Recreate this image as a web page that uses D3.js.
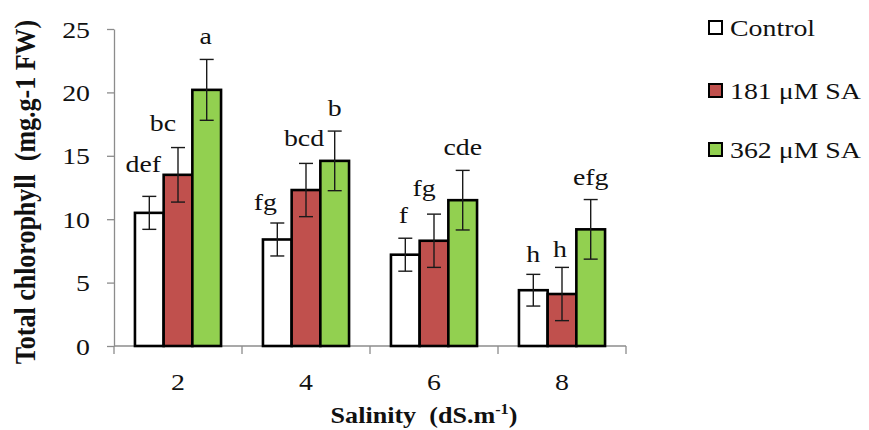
<!DOCTYPE html>
<html>
<head>
<meta charset="utf-8">
<script src="https://cdn.jsdelivr.net/npm/d3@7"></script>
<style>
  html, body { margin: 0; padding: 0; background: #fff; }
  svg { display: block; }
  text { font-family: "Liberation Serif", "Times New Roman", serif; fill: #111; }
</style>
</head>
<body>
<svg id="chart" width="869" height="430"></svg>
<script>
// ---- data ----
const categories = ["2", "4", "6", "8"];
const seriesNames = ["Control", "181 \u03BCM SA", "362 \u03BCM SA"];
const controlValues = [10.5, 8.4, 7.2, 4.4];
const sa181Values   = [13.5, 12.3, 8.3, 4.1];
const sa362Values   = [20.2, 14.6, 11.5, 9.2];
const controlErr = [1.3, 1.3, 1.3, 1.25];
const sa181Err   = [2.15, 2.1, 2.1, 2.1];
const sa362Err   = [2.4, 2.35, 2.35, 2.35];
const controlLetters = ["def", "fg", "f", "h"];
const sa181Letters   = ["bc", "bcd", "fg", "h"];
const sa362Letters   = ["a", "b", "cde", "efg"];
const yTicks = [0, 5, 10, 15, 20, 25];

// ---- layout / style ----
const colors = ["#FFFFFF", "#C0504D", "#92D050"];
const SX = 1.16;            // horizontal stretch of the original picture's text
const FS = 24;
const margin = { left: 114, right: 243, top: 29, bottom: 84 };
const W = 869, H = 430;
// manual nudges of the significance letters [series][category] -> [dx, dy] in px
const letterNudge = [
  [[-6, -9], [-12, 2], [-2, 0], [0, 3]],
  [[-15, -2], [-2, -2], [-10, -3], [-2, 5]],
  [[-1, 0], [0, 0], [0, 0], [0, 0]]
];

const svg = d3.select("#chart");
const values = [controlValues, sa181Values, sa362Values];
const errs = [controlErr, sa181Err, sa362Err];
const letters = [controlLetters, sa181Letters, sa362Letters];

const x0 = margin.left, x1 = W - margin.right;
const yBottom = H - margin.bottom;
const x = d3.scaleBand().domain(categories).range([x0, x1]).paddingInner(0).paddingOuter(0);
const xs = d3.scaleBand().domain(d3.range(3)).range([0, x.bandwidth()]).paddingInner(0).paddingOuter(0.73);
const y = d3.scaleLinear().domain([0, 25]).range([yBottom, margin.top]);

function addText(g, str, px, py, anchor, size, weight) {
  return g.append("text")
    .attr("transform", `translate(${px},${py}) scale(${SX},1)`)
    .attr("text-anchor", anchor)
    .attr("font-size", size)
    .attr("font-weight", weight || "normal")
    .text(str);
}

// ---- y axis ----
const yAxis = svg.append("g").attr("transform", `translate(${x0},0)`)
  .call(d3.axisLeft(y).tickValues(yTicks).tickSize(7).tickSizeOuter(0).tickFormat(""));
yAxis.selectAll("path, line").attr("stroke", "#8c8c8c").attr("stroke-width", 1.3);
yTicks.forEach(t => addText(svg, String(t), x0 - 24, y(t) + 8.5, "end", FS));

// ---- x axis ----
const xAxisG = svg.append("g");
xAxisG.append("line").attr("x1", x0).attr("x2", x1).attr("y1", yBottom).attr("y2", yBottom)
  .attr("stroke", "#8c8c8c").attr("stroke-width", 1.3);
const bounds = categories.map(c => x(c)).concat([x1]);
xAxisG.selectAll("line.tick").data(bounds).join("line").attr("class", "tick")
  .attr("x1", d => d).attr("x2", d => d).attr("y1", yBottom).attr("y2", yBottom + 8)
  .attr("stroke", "#8c8c8c").attr("stroke-width", 1.3);
categories.forEach(c => addText(svg, c, x(c) + x.bandwidth() / 2, 390, "middle", FS));

// ---- bars ----
const barsG = svg.append("g");
seriesNames.forEach((s, si) => {
  barsG.selectAll(`rect.s${si}`).data(categories).join("rect")
    .attr("class", `s${si}`)
    .attr("x", c => x(c) + xs(si))
    .attr("y", (c, i) => y(values[si][i]))
    .attr("width", xs.bandwidth())
    .attr("height", (c, i) => y(0) - y(values[si][i]))
    .attr("fill", colors[si])
    .attr("stroke", "#000")
    .attr("stroke-width", 2.6);
});

// ---- error bars ----
const errG = svg.append("g").attr("stroke", "#1a1a1a").attr("stroke-width", 1.4);
seriesNames.forEach((s, si) => {
  categories.forEach((c, i) => {
    const cx = x(c) + xs(si) + xs.bandwidth() / 2;
    const lo = y(values[si][i] - errs[si][i]);
    const hi = y(values[si][i] + errs[si][i]);
    errG.append("line").attr("x1", cx).attr("x2", cx).attr("y1", lo).attr("y2", hi);
    errG.append("line").attr("x1", cx - 7).attr("x2", cx + 7).attr("y1", lo).attr("y2", lo);
    errG.append("line").attr("x1", cx - 7).attr("x2", cx + 7).attr("y1", hi).attr("y2", hi);
  });
});

// ---- significance letters ----
seriesNames.forEach((s, si) => {
  categories.forEach((c, i) => {
    const cx = x(c) + xs(si) + xs.bandwidth() / 2;
    const top = y(values[si][i] + errs[si][i]);
    const [dx, dy] = letterNudge[si][i];
    addText(svg, letters[si][i], cx + dx, top - 15 + dy, "middle", FS);
  });
});

// ---- axis titles ----
svg.append("text")
  .attr("transform", `translate(35,192) scale(${SX},1) rotate(-90)`)
  .attr("text-anchor", "middle")
  .attr("font-size", 26)
  .attr("font-weight", "bold")
  .style("white-space", "pre")
  .text("Total chlorophyll  (mg.g-1 FW)");

const xt = svg.append("text")
  .attr("transform", `translate(424,423) scale(${SX},1)`)
  .attr("text-anchor", "middle")
  .attr("font-size", 22.5)
  .attr("font-weight", "bold")
  .style("white-space", "pre");
xt.append("tspan").text("Salinity  (dS.m");
xt.append("tspan").attr("font-size", 14).attr("dy", -9).text("-1");
xt.append("tspan").attr("dy", 9).text(")");

// ---- legend ----
const legendRows = [35.5, 98.5, 157.5];
seriesNames.forEach((s, si) => {
  svg.append("rect")
    .attr("x", 709).attr("y", legendRows[si] - 14.5)
    .attr("width", 13).attr("height", 13)
    .attr("fill", colors[si]).attr("stroke", "#000").attr("stroke-width", 2);
  addText(svg, s, 730, legendRows[si], "start", FS);
});
</script>
</body>
</html>
